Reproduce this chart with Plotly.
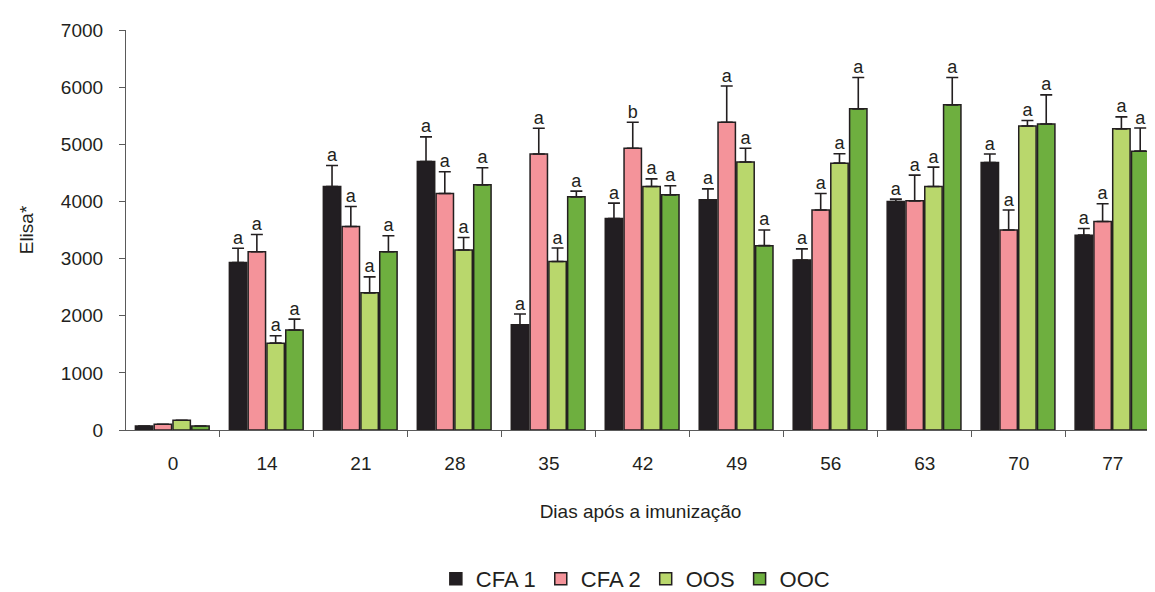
import plotly.graph_objects as go

days = ["0", "14", "21", "28", "35", "42", "49", "56", "63", "70", "77"]
series_names = ["CFA 1", "CFA 2", "OOS", "OOC"]

cfa1 = [70, 2930, 4260, 4700, 1840, 3700, 4030, 2975, 4000, 4680, 3410]
cfa2 = [100, 3120, 3560, 4140, 4830, 4930, 5385, 3850, 4010, 3500, 3650]
oos = [170, 1520, 2400, 3150, 2950, 4260, 4690, 4670, 4260, 5320, 5270]
ooc = [70, 1750, 3120, 4290, 4080, 4115, 3226, 5620, 5690, 5355, 4880]

cfa1_err = [0, 250, 370, 430, 190, 270, 190, 195, 40, 150, 115]
cfa2_err = [0, 300, 350, 380, 450, 455, 635, 290, 450, 350, 310]
oos_err = [0, 130, 280, 220, 235, 135, 240, 165, 340, 95, 210]
ooc_err = [0, 190, 280, 300, 100, 160, 275, 550, 480, 510, 405]

cfa1_lbl = ["", "a", "a", "a", "a", "a", "a", "a", "a", "a", "a"]
cfa2_lbl = ["", "a", "a", "a", "a", "b", "a", "a", "a", "a", "a"]
oos_lbl = ["", "a", "a", "a", "a", "a", "a", "a", "a", "a", "a"]
ooc_lbl = ["", "a", "a", "a", "a", "a", "a", "a", "a", "a", "a"]

colors = ["#221e22", "#f4939a", "#b9d76c", "#6eaf3f"]

values = [cfa1, cfa2, oos, ooc]
errors = [cfa1_err, cfa2_err, oos_err, ooc_err]
labels = [cfa1_lbl, cfa2_lbl, oos_lbl, ooc_lbl]

idx = list(range(len(days)))
step = 0.2
width = 0.185
font = "Liberation Sans, Arial, sans-serif"

fig = go.Figure()
for k in range(4):
    off = -0.4 + k * step
    fig.add_trace(go.Bar(
        x=idx, y=values[k], name=series_names[k],
        offset=off, width=width,
        marker=dict(color=colors[k], line=dict(color="#231f20", width=1.5)),
        error_y=dict(type="data", array=errors[k], arrayminus=[0] * len(idx),
                     symmetric=False, color="#231f20", thickness=1.6, width=6),
    ))
for k in range(4):
    off = -0.4 + k * step
    xs = [i + off + width / 2 for i in idx]
    ys = [v + e for v, e in zip(values[k], errors[k])]
    fig.add_trace(go.Scatter(
        x=xs, y=ys, mode="text", text=labels[k], textposition="top center",
        textfont=dict(family=font, size=18, color="#231f20"),
        showlegend=False, hoverinfo="skip", cliponaxis=False,
    ))

fig.update_layout(
    width=1147, height=584,
    margin=dict(l=118, r=0, t=22, b=162, autoexpand=False),
    plot_bgcolor="white", paper_bgcolor="white",
    barmode="overlay",
    font=dict(family=font, size=19, color="#231f20"),
    legend=dict(orientation="h", x=0.495, xanchor="center", y=-0.32, yanchor="top",
                font=dict(size=22), tracegroupgap=0, itemwidth=30),
    showlegend=True,
)
fig.update_xaxes(
    range=[-0.5, 10.45], tickmode="array", tickvals=idx, ticktext=days,
    ticks="", showgrid=False, zeroline=False, automargin=False,
    showline=True, linecolor="#5a5a5a", linewidth=1.2,
    minor=dict(tickmode="array", tickvals=[i + 0.5 for i in idx[:-1]],
               ticks="outside", ticklen=6, tickcolor="#5a5a5a", showgrid=False),
    ticklabelstandoff=16,
    title=dict(text="Dias após a imunização", font=dict(size=19), standoff=31),
)
fig.update_yaxes(
    range=[0, 7000], tickvals=[0, 1000, 2000, 3000, 4000, 5000, 6000, 7000],
    ticks="outside", ticklen=6, tickcolor="#5a5a5a", automargin=False,
    ticklabelstandoff=12,
    showgrid=False, zeroline=False, showline=True, linecolor="#5a5a5a", linewidth=1.2,
    title=dict(text="Elisa*", font=dict(size=19), standoff=22),
)

fig.write_html("out.html")
